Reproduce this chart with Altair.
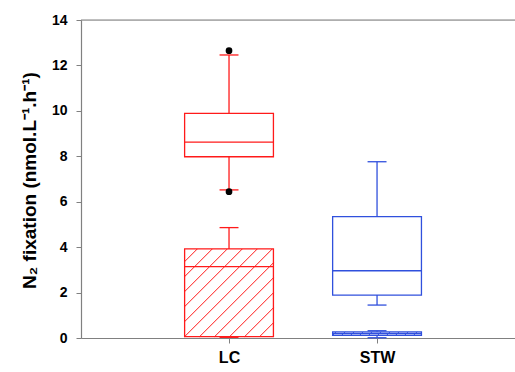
import altair as alt
import pandas as pd

# ---- data ----
categories = ["LC", "STW"]
cat_pos = [1, 2]
cat_colors = ["#ff1a1a", "#3050dd"]

box_cat = ["LC", "LC", "STW", "STW"]
box_hatched = [False, True, False, True]
whisker_lo = [6.52, 0.03, 1.45, 0.01]
q1 = [7.98, 0.06, 1.89, 0.12]
median = [8.62, 3.14, 2.96, 0.20]
q3 = [9.89, 3.92, 5.34, 0.27]
whisker_hi = [12.46, 4.86, 7.76, 0.32]

outlier_cat = ["LC", "LC"]
outlier_val = [12.65, 6.44]

y_ticks = [0, 2, 4, 6, 8, 10, 12, 14]

# ---- layout / style ----
W, H = 434, 318
X_DOMAIN = [0, 2.932]
Y_DOMAIN = [0, 14]
BOX_HALF = 0.30
CAP_HALF = 0.064
hatch_step = [None, 15.0, None, 9.0]  # px spacing for hatched boxes

px_x = W / (X_DOMAIN[1] - X_DOMAIN[0])
px_y = H / (Y_DOMAIN[1] - Y_DOMAIN[0])

pos = dict(zip(categories, cat_pos))
boxes = pd.DataFrame({
    "cat": box_cat, "lo": whisker_lo, "q1": q1, "med": median,
    "q3": q3, "hi": whisker_hi,
})
boxes["x"] = boxes["cat"].map(pos)
boxes["xl"] = boxes["x"] - BOX_HALF
boxes["xr"] = boxes["x"] + BOX_HALF
boxes["cl"] = boxes["x"] - CAP_HALF
boxes["cr"] = boxes["x"] + CAP_HALF

# hatch segments derived from box bounds (45 degrees on screen)
hatch_rows = []
for i, row in boxes.iterrows():
    s = hatch_step[i]
    if not box_hatched[i] or s is None:
        continue
    Xl, Xr = row["xl"] * px_x, row["xr"] * px_x
    Yb, Yt = row["q1"] * px_y, row["q3"] * px_y
    kk = Xl - Yb
    while kk > Xl - Yt:
        kk -= s
    ks = []
    while kk < Xr - Yb:
        ks.append(kk)
        kk += s
    for k in ks:
        y1 = max(Yb, Xl - k)
        y2 = min(Yt, Xr - k)
        if y2 - y1 > 0.5:
            hatch_rows.append({
                "cat": row["cat"],
                "hx": (y1 + k) / px_x, "hy": y1 / px_y,
                "hx2": (y2 + k) / px_x, "hy2": y2 / px_y,
            })
hatch = pd.DataFrame(hatch_rows)

outliers = pd.DataFrame({"cat": outlier_cat, "v": outlier_val})
outliers["x"] = outliers["cat"].map(pos)

label_expr = " : ".join(
    [f"datum.value == {p} ? '{c}'" for p, c in zip(cat_pos[:-1], categories[:-1])]
    + [f"'{categories[-1]}'"]
)

xscale = alt.Scale(domain=X_DOMAIN, nice=False, zero=False)
yscale = alt.Scale(domain=Y_DOMAIN, nice=False)
stroke = alt.Stroke("cat:N", scale=alt.Scale(domain=categories, range=cat_colors), legend=None)

x_axis = alt.Axis(
    values=cat_pos, labelExpr=label_expr, title=None, grid=False,
    labelFont="Liberation Sans", labelFontWeight="bold", labelFontSize=16,
    labelColor="black", labelPadding=6, tickSize=5, tickColor="#808080",
    domainColor="#808080", domainWidth=1.2,
)
y_axis = alt.Axis(
    values=y_ticks, grid=False,
    title="N₂ fixation (nmol.L⁻¹.h⁻¹)",
    titleFont="Liberation Sans", titleFontWeight="bold", titleFontSize=19,
    titleColor="black", titleAngle=270, titleX=-52, titleY=160,
    titleAlign="center", titleBaseline="middle",
    labelFont="Liberation Sans", labelFontWeight="bold", labelFontSize=14,
    labelColor="black", labelPadding=9, tickSize=5, tickColor="#808080",
    domainColor="#808080", domainWidth=1.2,
)

base = alt.Chart(boxes)

rect = base.mark_rect(fillOpacity=0, strokeWidth=1.3).encode(
    x=alt.X("xl:Q", scale=xscale, axis=x_axis), x2="xr:Q",
    y=alt.Y("q1:Q", scale=yscale, axis=y_axis), y2="q3:Q",
    stroke=stroke,
)
w_up = base.mark_rule(strokeWidth=1.3).encode(x="x:Q", y="q3:Q", y2="hi:Q", stroke=stroke)
w_dn = base.mark_rule(strokeWidth=1.3).encode(x="x:Q", y="lo:Q", y2="q1:Q", stroke=stroke)
cap_up = base.mark_rule(strokeWidth=1.3).encode(x="cl:Q", x2="cr:Q", y="hi:Q", stroke=stroke)
cap_dn = base.mark_rule(strokeWidth=1.3).encode(x="cl:Q", x2="cr:Q", y="lo:Q", stroke=stroke)
med = base.mark_rule(strokeWidth=1.3).encode(x="xl:Q", x2="xr:Q", y="med:Q", stroke=stroke)

hatch_layer = alt.Chart(hatch).mark_rule(strokeWidth=1).encode(
    x="hx:Q", y="hy:Q", x2="hx2:Q", y2="hy2:Q", stroke=stroke,
)

pts = alt.Chart(outliers).mark_point(filled=True, size=45, color="black", opacity=1).encode(
    x="x:Q", y="v:Q",
)

top = alt.Chart(pd.DataFrame({"t": [Y_DOMAIN[1]]})).mark_rule(
    color="#808080", strokeWidth=1.2
).encode(y="t:Q")

chart = alt.layer(
    top, hatch_layer, rect, w_up, w_dn, cap_up, cap_dn, med, pts
).properties(
    width=W, height=H,
    autosize=alt.AutoSizeParams(type="none"),
    padding={"left": 81, "top": 20, "right": 0, "bottom": 34},
).configure_view(stroke=None).configure(background="white")

chart.save("out.html", embed_options={"renderer": "svg", "actions": False})
